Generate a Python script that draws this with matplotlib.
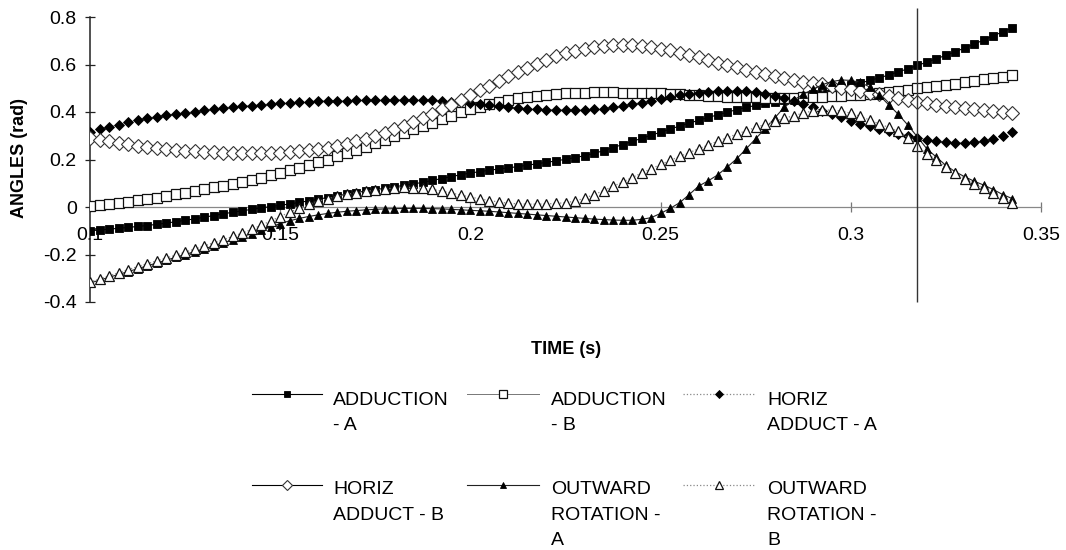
import matplotlib.pyplot as plt
from matplotlib.lines import Line2D

plt.rcParams['font.family'] = ['Liberation Sans', 'DejaVu Sans']

# sample times (s)
time_s = [
    0.1000, 0.1025, 0.1050, 0.1075, 0.1100, 0.1125, 0.1150, 0.1175, 0.1200, 0.1225,
    0.1250, 0.1275, 0.1300, 0.1325, 0.1350, 0.1375, 0.1400, 0.1425, 0.1450, 0.1475,
    0.1500, 0.1525, 0.1550, 0.1575, 0.1600, 0.1625, 0.1650, 0.1675, 0.1700, 0.1725,
    0.1750, 0.1775, 0.1800, 0.1825, 0.1850, 0.1875, 0.1900, 0.1925, 0.1950, 0.1975,
    0.2000, 0.2025, 0.2050, 0.2075, 0.2100, 0.2125, 0.2150, 0.2175, 0.2200, 0.2225,
    0.2250, 0.2275, 0.2300, 0.2325, 0.2350, 0.2375, 0.2400, 0.2425, 0.2450, 0.2475,
    0.2500, 0.2525, 0.2550, 0.2575, 0.2600, 0.2625, 0.2650, 0.2675, 0.2700, 0.2725,
    0.2750, 0.2775, 0.2800, 0.2825, 0.2850, 0.2875, 0.2900, 0.2925, 0.2950, 0.2975,
    0.3000, 0.3025, 0.3050, 0.3075, 0.3100, 0.3125, 0.3150, 0.3175, 0.3200, 0.3225,
    0.3250, 0.3275, 0.3300, 0.3325, 0.3350, 0.3375, 0.3400, 0.3425,
]

# joint angles (rad)
adduction_a = [
    -0.100, -0.097, -0.093, -0.090, -0.086, -0.082, -0.078, -0.073, -0.068, -0.062,
    -0.056, -0.050, -0.043, -0.036, -0.029, -0.022, -0.016, -0.010, -0.004, 0.002,
    0.007, 0.013, 0.019, 0.026, 0.033, 0.040, 0.047, 0.054, 0.061, 0.067,
    0.073, 0.079, 0.085, 0.091, 0.097, 0.104, 0.112, 0.120, 0.128, 0.136,
    0.143, 0.149, 0.155, 0.160, 0.165, 0.170, 0.176, 0.182, 0.188, 0.194,
    0.201, 0.208, 0.216, 0.226, 0.237, 0.250, 0.263, 0.276, 0.289, 0.302,
    0.315, 0.328, 0.341, 0.353, 0.365, 0.377, 0.388, 0.399, 0.410, 0.419,
    0.428, 0.436, 0.444, 0.452, 0.460, 0.468, 0.476, 0.485, 0.494, 0.503,
    0.512, 0.522, 0.533, 0.544, 0.556, 0.569, 0.582, 0.596, 0.610, 0.624,
    0.639, 0.654, 0.670, 0.686, 0.704, 0.721, 0.738, 0.755,
]
adduction_b = [
    0.003, 0.007, 0.012, 0.017, 0.022, 0.028, 0.034, 0.040, 0.047, 0.054,
    0.061, 0.068, 0.076, 0.083, 0.090, 0.098, 0.106, 0.115, 0.124, 0.134,
    0.144, 0.154, 0.165, 0.176, 0.188, 0.200, 0.213, 0.226, 0.240, 0.254,
    0.268, 0.283, 0.298, 0.313, 0.327, 0.341, 0.355, 0.370, 0.384, 0.398,
    0.411, 0.423, 0.434, 0.443, 0.451, 0.458, 0.464, 0.469, 0.473, 0.476,
    0.479, 0.481, 0.482, 0.483, 0.483, 0.483, 0.482, 0.481, 0.480, 0.479,
    0.478, 0.476, 0.474, 0.472, 0.470, 0.468, 0.466, 0.465, 0.464, 0.463,
    0.462, 0.461, 0.461, 0.461, 0.461, 0.462, 0.463, 0.464, 0.466, 0.468,
    0.470, 0.473, 0.477, 0.481, 0.485, 0.489, 0.494, 0.499, 0.504, 0.509,
    0.514, 0.519, 0.525, 0.531, 0.537, 0.543, 0.549, 0.555,
]
horiz_adduct_a = [
    0.317, 0.327, 0.337, 0.347, 0.356, 0.365, 0.373, 0.381, 0.386, 0.391,
    0.396, 0.402, 0.408, 0.413, 0.417, 0.421, 0.424, 0.427, 0.430, 0.433,
    0.436, 0.439, 0.441, 0.443, 0.445, 0.446, 0.447, 0.448, 0.449, 0.450,
    0.450, 0.451, 0.451, 0.451, 0.451, 0.450, 0.449, 0.447, 0.444, 0.441,
    0.437, 0.433, 0.429, 0.425, 0.421, 0.417, 0.414, 0.412, 0.410, 0.409,
    0.408, 0.408, 0.409, 0.411, 0.414, 0.419, 0.425, 0.432, 0.440, 0.448,
    0.456, 0.464, 0.471, 0.477, 0.482, 0.486, 0.489, 0.490, 0.490, 0.488,
    0.484, 0.477, 0.469, 0.459, 0.447, 0.433, 0.419, 0.405, 0.391, 0.377,
    0.364, 0.351, 0.339, 0.328, 0.318, 0.309, 0.300, 0.292, 0.284, 0.277,
    0.272, 0.270, 0.270, 0.272, 0.277, 0.287, 0.300, 0.315,
]
horiz_adduct_b = [
    0.290, 0.283, 0.276, 0.270, 0.264, 0.258, 0.253, 0.248, 0.244, 0.240,
    0.237, 0.234, 0.232, 0.230, 0.229, 0.228, 0.227, 0.227, 0.227, 0.228,
    0.229, 0.231, 0.234, 0.238, 0.243, 0.250, 0.258, 0.267, 0.277, 0.288,
    0.300, 0.313, 0.327, 0.342, 0.358, 0.375, 0.393, 0.412, 0.431, 0.451,
    0.471, 0.491, 0.511, 0.531, 0.550, 0.569, 0.587, 0.604, 0.620, 0.634,
    0.647, 0.658, 0.667, 0.674, 0.679, 0.682, 0.683, 0.682, 0.679, 0.674,
    0.667, 0.659, 0.650, 0.640, 0.630, 0.619, 0.608, 0.598, 0.588, 0.578,
    0.568, 0.559, 0.550, 0.542, 0.535, 0.528, 0.522, 0.516, 0.509, 0.502,
    0.495, 0.488, 0.481, 0.474, 0.466, 0.458, 0.451, 0.444, 0.437, 0.431,
    0.425, 0.420, 0.415, 0.411, 0.407, 0.403, 0.399, 0.395,
]
outward_rot_a = [
    -0.320, -0.308, -0.296, -0.284, -0.272, -0.260, -0.248, -0.236, -0.224, -0.212,
    -0.200, -0.188, -0.176, -0.164, -0.151, -0.138, -0.125, -0.112, -0.098, -0.084,
    -0.070, -0.058, -0.048, -0.040, -0.033, -0.027, -0.022, -0.018, -0.015, -0.012,
    -0.010, -0.008, -0.007, -0.006, -0.006, -0.006, -0.007, -0.008, -0.010, -0.012,
    -0.014, -0.016, -0.018, -0.021, -0.024, -0.027, -0.030, -0.033, -0.036, -0.039,
    -0.042, -0.045, -0.048, -0.051, -0.053, -0.055, -0.056, -0.056, -0.052, -0.045,
    -0.027, -0.006, 0.018, 0.052, 0.088, 0.110, 0.135, 0.168, 0.203, 0.245,
    0.288, 0.330, 0.375, 0.420, 0.450, 0.475, 0.495, 0.515, 0.528, 0.535,
    0.533, 0.525, 0.505, 0.470, 0.430, 0.390, 0.345, 0.295, 0.245, 0.210,
    0.175, 0.148, 0.127, 0.108, 0.092, 0.073, 0.052, 0.035,
]
outward_rot_b = [
    -0.316, -0.303, -0.290, -0.277, -0.264, -0.251, -0.239, -0.227, -0.215, -0.203,
    -0.190, -0.177, -0.164, -0.151, -0.138, -0.124, -0.110, -0.094, -0.077, -0.059,
    -0.040, -0.022, -0.004, 0.011, 0.024, 0.035, 0.045, 0.053, 0.060, 0.066,
    0.071, 0.076, 0.081, 0.083, 0.082, 0.079, 0.074, 0.067, 0.059, 0.050,
    0.042, 0.034, 0.027, 0.021, 0.016, 0.013, 0.012, 0.012, 0.013, 0.015,
    0.018, 0.025, 0.037, 0.052, 0.069, 0.087, 0.105, 0.124, 0.143, 0.161,
    0.179, 0.196, 0.213, 0.229, 0.245, 0.261, 0.277, 0.292, 0.307, 0.321,
    0.335, 0.348, 0.361, 0.373, 0.385, 0.395, 0.405, 0.408, 0.408, 0.404,
    0.395, 0.382, 0.366, 0.350, 0.335, 0.318, 0.292, 0.258, 0.225, 0.198,
    0.170, 0.143, 0.120, 0.098, 0.078, 0.058, 0.038, 0.018,
]

x_ticks = [0.1, 0.15, 0.2, 0.25, 0.3, 0.35]
x_tick_labels = ['0.1', '0.15', '0.2', '0.25', '0.3', '0.35']
y_ticks = [-0.4, -0.2, 0, 0.2, 0.4, 0.6, 0.8]
y_tick_labels = ['-0.4', '-0.2', '0', '0.2', '0.4', '0.6', '0.8']
marker_time = 0.3175

W, H = 1066, 550
fig = plt.figure(figsize=(W / 100, H / 100), dpi=100)
ax = fig.add_axes([90 / W, 1 - 302 / H, (1041 - 90) / W, (302 - 17) / H])

# label lines, values, line style, marker style
series = [
    (['ADDUCTION', '- A'], adduction_a,
     dict(color='black', ls='-', lw=0.8),
     dict(marker='s', ms=5.8, mfc='black', mec='black', mew=0.6)),
    (['ADDUCTION', '- B'], adduction_b,
     dict(color='#777777', ls='-', lw=0.7),
     dict(marker='s', ms=7.4, mfc='white', mec='#111111', mew=0.9)),
    (['HORIZ', 'ADDUCT - A'], horiz_adduct_a,
     dict(color='#888888', ls=':', lw=0.9),
     dict(marker='D', ms=5.2, mfc='black', mec='black', mew=0.6)),
    (['HORIZ', 'ADDUCT - B'], horiz_adduct_b,
     dict(color='black', ls='-', lw=0.8),
     dict(marker='D', ms=6.8, mfc='white', mec='#333333', mew=0.8)),
    (['OUTWARD', 'ROTATION -', 'A'], outward_rot_a,
     dict(color='#222222', ls='-', lw=0.8),
     dict(marker='^', ms=6.2, mfc='black', mec='black', mew=0.6)),
    (['OUTWARD', 'ROTATION -', 'B'], outward_rot_b,
     dict(color='#888888', ls=':', lw=0.9),
     dict(marker='^', ms=7.6, mfc='white', mec='#111111', mew=0.9)),
]

for z, (lines, vals, lstyle, mstyle) in enumerate(series):
    ax.plot(time_s, vals, zorder=3 + z * 0.1, **lstyle, **mstyle)

ax.vlines(marker_time, -0.4, 0.84, colors='#333333', lw=1.0, clip_on=False, zorder=5)

ax.set_xlim(0.1, 0.35)
ax.set_ylim(-0.4, 0.8)
ax.spines['top'].set_visible(False)
ax.spines['right'].set_visible(False)
ax.spines['bottom'].set_position(('data', 0))
ax.spines['bottom'].set_color('#888888')
ax.spines['bottom'].set_linewidth(0.9)
ax.spines['left'].set_color('#222222')
ax.spines['left'].set_linewidth(1.1)

ax.set_xticks(x_ticks)
ax.set_xticklabels(x_tick_labels)
ax.set_yticks(y_ticks)
ax.set_yticklabels(y_tick_labels)
ax.tick_params(axis='x', direction='inout', length=7, width=0.9, color='#777777',
               pad=11, labelsize=14)
ax.tick_params(axis='y', direction='inout', length=7, width=0.9, color='#222222',
               pad=6, labelsize=14)

fig.text(19.5 / W, 1 - 158 / H, 'ANGLES (rad)', rotation=90, ha='center', va='center',
         fontsize=13, fontweight='bold')
fig.text(566 / W, 1 - 349 / H, 'TIME (s)', ha='center', va='center',
         fontsize=13, fontweight='bold')

# legend laid out in two rows of three
handle_x = [(252, 322), (467, 539), (683, 755)]
text_x = [333, 551, 767]
row_handle_y = [394, 485]
row_baseline = [405, 494]
line_pitch = 25.5

for idx, (lines, vals, lstyle, mstyle) in enumerate(series):
    row, col = divmod(idx, 3)
    x0, x1 = handle_x[col]
    hy = 1 - row_handle_y[row] / H
    fig.add_artist(Line2D([x0 / W, x1 / W], [hy, hy], transform=fig.transFigure, **lstyle))
    m = dict(mstyle)
    m['ms'] = m['ms'] * 0.75
    fig.add_artist(Line2D([(x0 + x1) / 2 / W], [hy], transform=fig.transFigure,
                          ls='none', **m))
    for k, txt in enumerate(lines):
        fig.text(text_x[col] / W, 1 - (row_baseline[row] + k * line_pitch) / H, txt,
                 fontsize=14, va='baseline', ha='left')

fig.savefig('out.png', dpi=100)
